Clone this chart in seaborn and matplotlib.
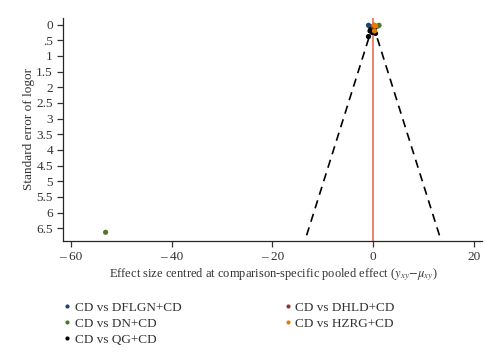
import numpy as np
import pandas as pd
import matplotlib
matplotlib.use("Agg")
import matplotlib.pyplot as plt
import seaborn as sns

# comparison labels (legend order) and colours
comparisons = ["CD vs DFLGN+CD", "CD vs DN+CD", "CD vs QG+CD", "CD vs DHLD+CD", "CD vs HZRG+CD"]
colors = ["#1a476f", "#55752f", "#000000", "#90353b", "#e37e00"]

# centred effect sizes and standard errors
dflgn_x = [-0.9, -0.6]
dflgn_se = [0.02, 0.06]
dn_x = [1.2, 0.9, -53.1]
dn_se = [0.02, 0.05, 6.63]
qg_x = [-0.9, 0.5, -0.4, 0.1, -0.2, 0.3, -0.6]
qg_se = [0.38, 0.28, 0.15, 0.2, 0.25, 0.12, 0.2]
dhld_x = [0.0]
dhld_se = [0.05]
hzrg_x = [0.2, 0.5, 0.3]
hzrg_se = [0.01, 0.04, 0.2]

se_max = 6.9
yticks = [0, 0.5, 1, 1.5, 2, 2.5, 3, 3.5, 4, 4.5, 5, 5.5, 6, 6.5]
ytick_labels = ["0", ".5", "1", "1.5", "2", "2.5", "3", "3.5", "4", "4.5", "5", "5.5", "6", "6.5"]
xticks = [-60, -40, -20, 0, 20]

df = pd.concat([
    pd.DataFrame({"x": dflgn_x, "se": dflgn_se, "comp": comparisons[0]}),
    pd.DataFrame({"x": dn_x, "se": dn_se, "comp": comparisons[1]}),
    pd.DataFrame({"x": qg_x, "se": qg_se, "comp": comparisons[2]}),
    pd.DataFrame({"x": dhld_x, "se": dhld_se, "comp": comparisons[3]}),
    pd.DataFrame({"x": hzrg_x, "se": hzrg_se, "comp": comparisons[4]}),
], ignore_index=True)

sns.set_style("ticks")
plt.rcParams["font.family"] = ["Liberation Serif", "DejaVu Serif"]
plt.rcParams["mathtext.fontset"] = "stix"

fig = plt.figure(figsize=(5, 3.62), dpi=100)
ax = fig.add_axes([0.1266, 0.335, 0.838, 0.615])

# funnel: pseudo 95% limits
se_line = np.array([0, se_max])
ax.plot(-1.96 * se_line, se_line, color="black", ls=(0, (5, 3.5)), lw=1.2, zorder=1)
ax.plot(1.96 * se_line, se_line, color="black", ls=(0, (5, 3.5)), lw=1.2, zorder=1)
ax.axvline(0, color="#e8603f", lw=1.1, zorder=2)

sns.scatterplot(data=df, x="x", y="se", hue="comp", hue_order=comparisons,
                palette=colors, s=14, edgecolor="none", ax=ax, zorder=3)

ax.set_xlim(-61.5, 21.7)
ax.set_ylim(se_max, -0.21)
ax.set_xticks(xticks)
ax.set_xticklabels(["\u2013 60", "\u2013 40", "\u2013 20", "0", "20"])
ax.set_yticks(yticks)
ax.set_yticklabels(ytick_labels)
ax.tick_params(labelsize=9.5, length=4, width=0.9, colors="#333333")
for s in ["left", "bottom"]:
    ax.spines[s].set_linewidth(0.9)
sns.despine(ax=ax)

ax.set_xlabel(r"Effect size centred at comparison-specific pooled effect ($y_{xy}$$-$$\mu_{xy}$)",
              fontsize=9, color="#333333", labelpad=2)
ax.set_ylabel("Standard error of logor", fontsize=9.5, color="#333333", labelpad=1)

handles, labels = ax.get_legend_handles_labels()
ax.legend(handles, labels, ncol=2, frameon=False, fontsize=9.5,
          loc="upper left", bbox_to_anchor=(0.09, 0.2), bbox_transform=fig.transFigure,
          handletextpad=-0.2, handlelength=1.6, columnspacing=7.2, labelspacing=0.3,
          markerscale=0.8, labelcolor="#333333")

fig.savefig("out.png", dpi=100)
